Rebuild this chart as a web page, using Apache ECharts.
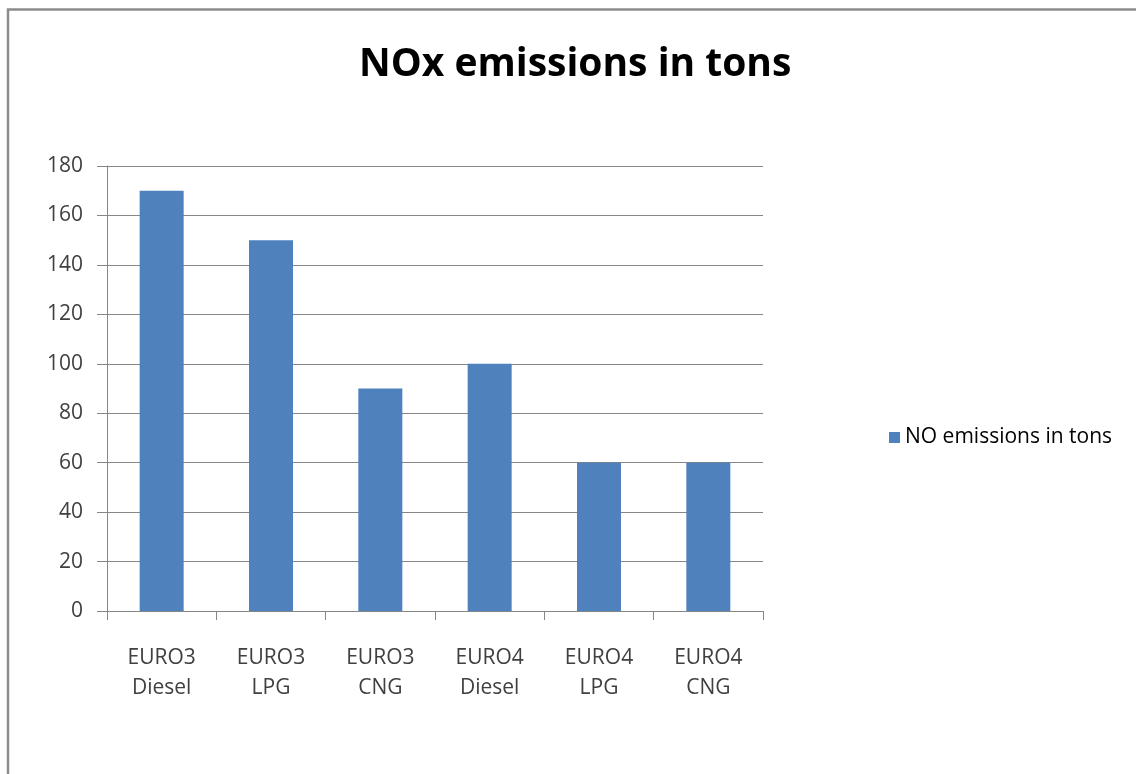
<!DOCTYPE html>
<html>
<head>
<meta charset="utf-8">
<style>
  html, body { margin: 0; padding: 0; background: #ffffff; }
  #chart { width: 1136px; height: 774px; }
</style>
<script src="https://cdn.jsdelivr.net/npm/echarts@6/dist/echarts.min.js"></script>
</head>
<body>
<div id="chart"></div>
<script>
// Emission categories and values (tons)
const categories = ['EURO3\nDiesel', 'EURO3\nLPG', 'EURO3\nCNG', 'EURO4\nDiesel', 'EURO4\nLPG', 'EURO4\nCNG'];
const noxValues = [170, 150, 90, 100, 60, 60];
const seriesName = 'NO emissions in tons';
const chartTitle = 'NOx emissions in tons';

const chart = echarts.init(document.getElementById('chart'));
const labelFont = '"Open Sans", "Liberation Sans", sans-serif';

chart.setOption({
  animation: false,
  backgroundColor: '#ffffff',
  title: {
    text: chartTitle,
    left: 354,
    top: 40,
    textStyle: { fontFamily: labelFont, fontWeight: 'bold', fontSize: 39, color: '#000000' }
  },
  legend: {
    orient: 'vertical',
    left: 884,
    top: 422,
    itemWidth: 11,
    itemHeight: 11,
    icon: 'rect',
    itemGap: 10,
    textStyle: { fontFamily: labelFont, fontSize: 21, color: '#000000' },
    data: [seriesName]
  },
  grid: { left: 107, right: 373, top: 166, bottom: 163 },
  xAxis: {
    type: 'category',
    data: categories,
    boundaryGap: true,
    axisLine: { lineStyle: { color: '#868686', width: 1 } },
    axisTick: { show: true, length: 9, lineStyle: { color: '#868686' } },
    axisLabel: {
      margin: 32,
      fontFamily: labelFont,
      fontSize: 21,
      lineHeight: 30,
      color: '#404040'
    }
  },
  yAxis: {
    type: 'value',
    min: 0,
    max: 180,
    interval: 20,
    axisLine: { show: true, lineStyle: { color: '#868686', width: 1 } },
    axisTick: { show: true, inside: false, length: 10, lineStyle: { color: '#868686' } },
    axisLabel: { margin: 24, fontFamily: labelFont, fontSize: 21, color: '#404040' },
    splitLine: { show: true, lineStyle: { color: '#868686', width: 1 } }
  },
  series: [{
    name: seriesName,
    type: 'bar',
    data: noxValues,
    barWidth: 44,
    itemStyle: { color: '#4F81BD' }
  }],
  graphic: [{
    type: 'rect',
    shape: { x: 8, y: 9.5, width: 1200, height: 900 },
    style: { fill: 'none', stroke: '#8c8c8c', lineWidth: 2.5 },
    silent: true
  }]
});
</script>
</body>
</html>
